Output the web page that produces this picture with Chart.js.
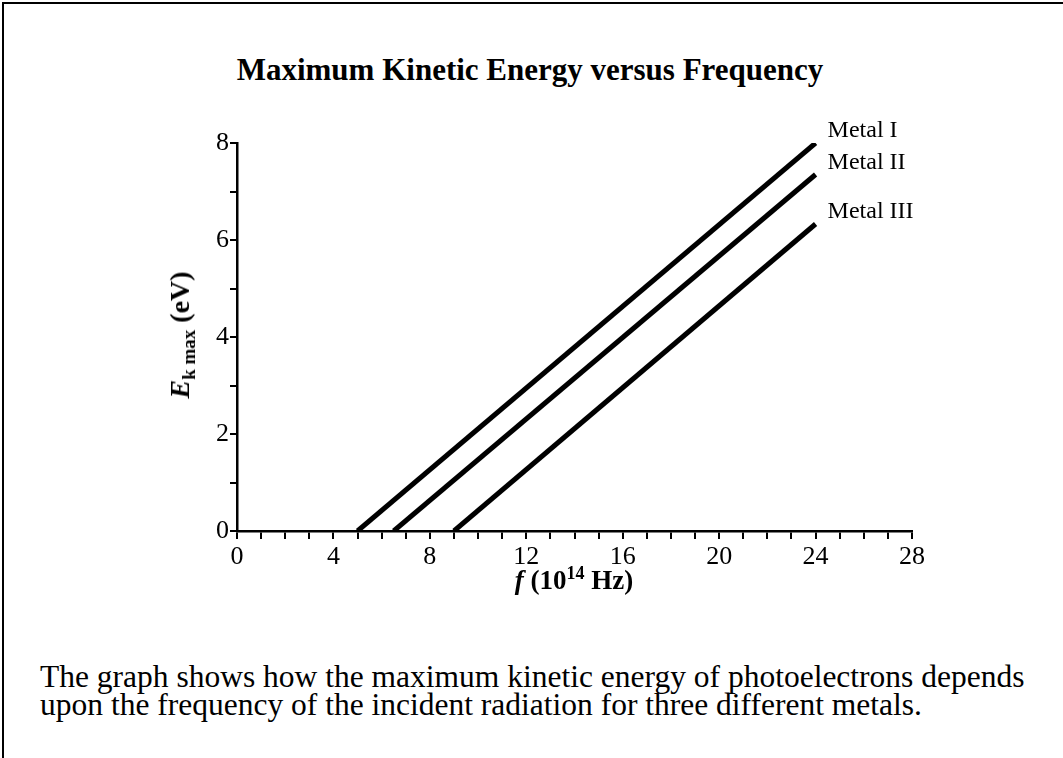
<!DOCTYPE html>
<html>
<head>
<meta charset="utf-8">
<script src="https://cdn.jsdelivr.net/npm/chart.js@4.4.1/dist/chart.umd.min.js"></script>
<style>
  html, body { margin: 0; padding: 0; background: #fff; }
  body { width: 1063px; height: 758px; position: relative; overflow: hidden; font-family: "Liberation Serif", "Times New Roman", serif; }
  #frame { position: absolute; left: 2px; top: 2px; width: 1100px; height: 800px; border-top: 2px solid #000; border-left: 2px solid #000; }
  #wrap { position: absolute; left: 0; top: 0; width: 1063px; height: 600px; }
  #title { position: absolute; top: 50px; left: 0; width: 1060px; text-align: center; font-weight: bold; font-size: 31px; line-height: 40px; }
  #ytitle { position: absolute; left: 182px; top: 335px; transform: translate(-50%, -50%) rotate(-90deg); white-space: nowrap; font-weight: bold; font-size: 28px; }
  #xtitle { position: absolute; left: 574px; top: 579px; transform: translate(-50%, -50%); white-space: nowrap; font-weight: bold; font-size: 27px; }
  sub { font-size: 19px; vertical-align: -6px; }
  sup { font-size: 18px; vertical-align: 10px; }
  #caption { position: absolute; left: 40px; top: 663px; font-size: 31.5px; line-height: 28px; }
</style>
</head>
<body>
<div id="frame"></div>
<div id="title">Maximum Kinetic Energy versus Frequency</div>
<div id="wrap"><canvas id="chart"></canvas></div>
<div id="ytitle"><i>E</i><sub>k max</sub> (eV)</div>
<div id="xtitle"><i>f</i> (10<sup>14</sup> Hz)</div>
<div id="caption">The graph shows how the maximum kinetic energy of photoelectrons depends<br>upon the frequency of the incident radiation for three different metals.</div>
<script>
// frequency (10^14 Hz) and max kinetic energy (eV) at the ends of each line
const metalNames = ['Metal I', 'Metal II', 'Metal III'];
const metal1 = [{x: 5.0, y: 0}, {x: 24, y: 8.0}];
const metal2 = [{x: 6.5, y: 0}, {x: 24, y: 7.35}];
const metal3 = [{x: 9.0, y: 0}, {x: 24, y: 6.33}];
const xTicks = [0, 4, 8, 12, 16, 20, 24, 28];
const yTicks = [0, 2, 4, 6, 8];

const serif = '"Liberation Serif", "Times New Roman", serif';

// writes the metal name just past the top end of each line
const endLabels = {
    id: 'endLabels',
    afterDatasetsDraw(chart) {
        const ctx = chart.ctx;
        const xs = chart.scales.x;
        const ys = chart.scales.y;
        ctx.save();
        ctx.fillStyle = '#000';
        ctx.font = '24px ' + serif;
        ctx.textAlign = 'left';
        ctx.textBaseline = 'middle';
        chart.data.datasets.forEach(ds => {
            const last = ds.data[ds.data.length - 1];
            ctx.fillText(ds.label, xs.getPixelForValue(last.x) + 12, ys.getPixelForValue(last.y) - 12);
        });
        ctx.restore();
    }
};

function lineSet(label, data) {
    return {
        label: label,
        data: data,
        borderColor: '#000',
        borderWidth: 5,
        pointRadius: 0,
        borderCapStyle: 'butt',
        tension: 0,
    };
}

new Chart(document.getElementById('chart'), {
    type: 'line',
    data: {
        datasets: [
            lineSet(metalNames[0], metal1),
            lineSet(metalNames[1], metal2),
            lineSet(metalNames[2], metal3),
        ]
    },
    options: {
        responsive: true,
        maintainAspectRatio: false,
        animation: false,
        events: [],
        layout: {
            padding: {left: 197, top: 143, right: 151, bottom: 19}
        },
        scales: {
            x: {
                type: 'linear',
                min: 0,
                max: 28,
                afterFit: s => { s.height = 50; },
                border: {color: '#000', width: 2.5},
                grid: {drawOnChartArea: false, color: '#000', lineWidth: 2, tickLength: 8},
                ticks: {
                    stepSize: 1,
                    autoSkip: false,
                    maxRotation: 0,
                    padding: 3,
                    color: '#000',
                    font: {family: serif, size: 26},
                    callback: v => xTicks.includes(v) ? String(v) : ''
                }
            },
            y: {
                min: 0,
                max: 8,
                afterFit: s => { s.width = 40; },
                border: {color: '#000', width: 2.5},
                grid: {drawOnChartArea: false, color: '#000', lineWidth: 2, tickLength: 7},
                ticks: {
                    stepSize: 1,
                    autoSkip: false,
                    padding: 1,
                    color: '#000',
                    font: {family: serif, size: 26},
                    callback: v => yTicks.includes(v) ? String(v) : ''
                }
            }
        },
        plugins: {
            legend: {display: false},
            tooltip: {enabled: false},
            title: {display: false}
        }
    },
    plugins: [endLabels]
});
</script>
</body>
</html>
